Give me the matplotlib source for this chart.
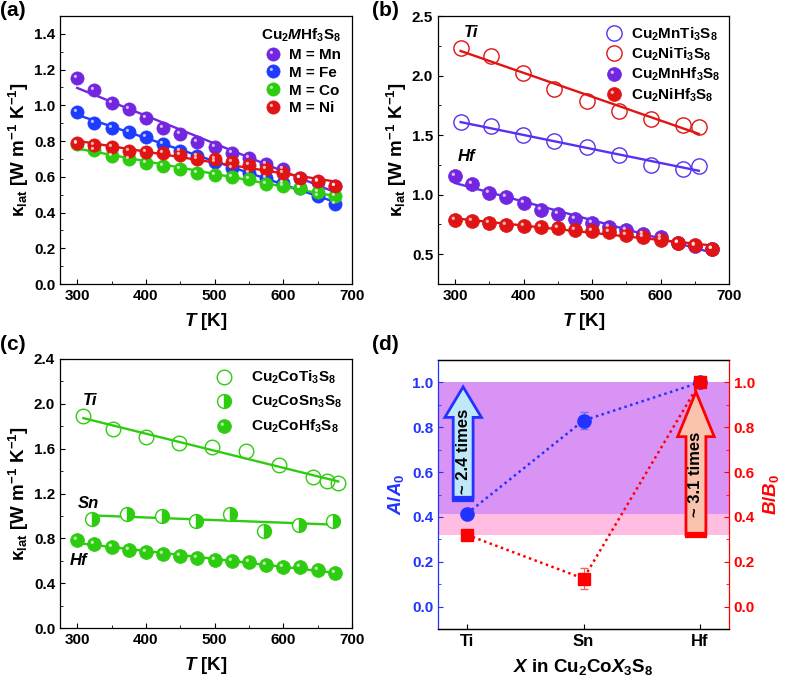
import numpy as np
import matplotlib
matplotlib.use("Agg")
import matplotlib.pyplot as plt
from matplotlib.path import Path
from matplotlib.patches import FancyArrow
from matplotlib.legend_handler import HandlerTuple
from matplotlib.ticker import MultipleLocator

plt.rcParams.update(
    {
        "font.family": ["Liberation Sans", "DejaVu Sans"],
        "font.weight": "bold",
        "axes.labelweight": "bold",
        "font.size": 11,
        "mathtext.fontset": "custom",
        "mathtext.default": "regular",
        "mathtext.it": "Liberation Sans:italic:bold",
        "mathtext.rm": "Liberation Sans:bold",
        "mathtext.bf": "Liberation Sans:bold",
        "axes.linewidth": 0.9,
        "xtick.direction": "in",
        "ytick.direction": "in",
        "xtick.major.size": 3.5,
        "ytick.major.size": 3.5,
        "xtick.minor.size": 2,
        "ytick.minor.size": 2,
    }
)

# ---- data ----
T_hf = [300, 325, 350, 375, 400, 425, 450, 475, 500, 525, 550, 575, 600, 625, 650, 675]
mn_hf = [1.153, 1.086, 1.015, 0.978, 0.927, 0.875, 0.837, 0.796, 0.766, 0.731, 0.703, 0.671, 0.641, 0.594, 0.570, 0.548]
fe_hf = [0.963, 0.903, 0.875, 0.851, 0.824, 0.785, 0.744, 0.716, 0.682, 0.650, 0.620, 0.594, 0.566, 0.535, 0.495, 0.447]
co_hf = [0.784, 0.748, 0.719, 0.698, 0.677, 0.659, 0.641, 0.623, 0.611, 0.599, 0.587, 0.561, 0.546, 0.540, 0.516, 0.492]
ni_hf = [0.790, 0.776, 0.766, 0.744, 0.740, 0.731, 0.721, 0.700, 0.697, 0.684, 0.665, 0.645, 0.622, 0.596, 0.574, 0.548]

T_ti = [308, 353, 399, 444, 493, 539, 586, 633, 656]
mn_ti = [1.606, 1.573, 1.497, 1.447, 1.397, 1.335, 1.251, 1.215, 1.237]
ni_ti = [2.229, 2.168, 2.020, 1.891, 1.790, 1.704, 1.634, 1.581, 1.564]

T_co_ti = [309, 352, 400, 448, 496, 545, 594, 643, 664, 680]
co_ti = [1.889, 1.777, 1.708, 1.649, 1.613, 1.577, 1.455, 1.345, 1.312, 1.291]
T_co_sn = [322, 372, 423, 473, 522, 572, 623, 673]
co_sn = [0.975, 1.020, 1.002, 0.954, 1.017, 0.865, 0.918, 0.957]

x_elem = ["Ti", "Sn", "Hf"]
A_ratio = [0.415, 0.830, 1.000]
A_err = [0.010, 0.040, 0.010]
B_ratio = [0.320, 0.125, 1.000]
B_err = [0.010, 0.045, 0.010]

C_MN = "#7226E0"
C_FE = "#1E3CFF"
C_CO = "#2ECC10"
C_NI = "#E01414"
C_MN2 = "#5A30F0"

KLAT = r"κ$_{lat}$ [W m$^{-1}$ K$^{-1}$]"
TLAB = r"$\mathit{T}$ [K]"
TICK_FS = 11
LEG_FS = 11
LAB_FS = 13.5

# highlight marker: small circle in upper-left of the marker box (sphere look)
_circ = Path.circle(center=(-0.32, 0.32), radius=0.24)
HL = Path.make_compound_path(Path([(-1, -1), (1, 1)], [Path.MOVETO, Path.MOVETO]), _circ)


def balls(ax, x, y, color, ms=9.5, z=3):
    h1, = ax.plot(x, y, ls="none", marker="o", ms=ms, mfc=color, mec=color, mew=0.5, zorder=z)
    h2, = ax.plot(x, y, ls="none", marker=HL, ms=ms, mfc=(1, 1, 1, 0.7), mec="none", zorder=z + 0.1)
    return (h1, h2)


def fitline(ax, x, y, color, lw=1.7):
    x = np.asarray(x, float)
    p = np.polyfit(x, y, 1)
    xx = np.array([x.min(), x.max()])
    ax.plot(xx, np.polyval(p, xx), color=color, lw=lw, zorder=2)


def style_T_axes(ax, ylim, ymaj, ymin):
    ax.set_xlim(275, 700)
    ax.set_ylim(*ylim)
    ax.xaxis.set_major_locator(MultipleLocator(100))
    ax.xaxis.set_minor_locator(MultipleLocator(50))
    ax.yaxis.set_major_locator(MultipleLocator(ymaj))
    ax.yaxis.set_minor_locator(MultipleLocator(ymin))
    ax.tick_params(which="both", top=False, right=False)
    ax.tick_params(labelsize=TICK_FS)
    ax.set_xlabel(TLAB, fontsize=LAB_FS, labelpad=6)
    ax.set_ylabel(KLAT, fontsize=LAB_FS, labelpad=2)


fig = plt.figure(figsize=(7.87, 6.83), dpi=100)
W, H = 787, 683


def add_axes(l, r, t, b):
    return fig.add_axes([l / W, 1 - b / H, (r - l) / W, (b - t) / H])


ax_a = add_axes(60, 352, 16, 284)
ax_b = add_axes(438, 729, 16, 284)
ax_c = add_axes(60, 352, 359, 628)
ax_d = add_axes(438, 729, 360, 629)

# ---- (a) ----
ax = ax_a
hs = []
for y, c in [(mn_hf, C_MN), (fe_hf, C_FE), (co_hf, C_CO), (ni_hf, C_NI)]:
    fitline(ax, T_hf, y, c)
for y, c in [(mn_hf, C_MN), (fe_hf, C_FE), (co_hf, C_CO), (ni_hf, C_NI)]:
    hs.append(balls(ax, T_hf, y, c))
style_T_axes(ax, (0, 1.5), 0.2, 0.1)
leg = ax.legend(hs, ["M = Mn", "M = Fe", "M = Co", "M = Ni"], handler_map={tuple: HandlerTuple(ndivide=1)},
                loc="upper right", frameon=False, fontsize=LEG_FS, title=r"Cu$_2$$\mathit{M}$Hf$_3$S$_8$",
                title_fontproperties={"weight": "bold", "size": LEG_FS}, numpoints=1,
                handletextpad=0.3, labelspacing=0.25, borderaxespad=0.3, handlelength=1.6)

# ---- (b) ----
ax = ax_b
fitline(ax, T_ti, mn_ti, C_MN2)
fitline(ax, T_ti, ni_ti, C_NI)
fitline(ax, T_hf, mn_hf, C_MN2)
fitline(ax, T_hf, ni_hf, C_NI)
h_mnti, = ax.plot(T_ti, mn_ti, ls="none", marker="o", ms=11, mfc="none", mec=C_MN2, mew=1.0, zorder=3)
h_niti, = ax.plot(T_ti, ni_ti, ls="none", marker="o", ms=11, mfc="none", mec=C_NI, mew=1.0, zorder=3)
h_mnhf = balls(ax, T_hf, mn_hf, C_MN, ms=10)
h_nihf = balls(ax, T_hf, ni_hf, C_NI, ms=10)
style_T_axes(ax, (0.25, 2.5), 0.5, 0.25)
ax.legend([h_mnti, h_niti, h_mnhf, h_nihf],
          [r"Cu$_2$MnTi$_3$S$_8$", r"Cu$_2$NiTi$_3$S$_8$", r"Cu$_2$MnHf$_3$S$_8$", r"Cu$_2$NiHf$_3$S$_8$"],
          handler_map={tuple: HandlerTuple(ndivide=1)}, loc="upper right", frameon=False, fontsize=LEG_FS,
          numpoints=1, handletextpad=0.3, labelspacing=0.2, borderaxespad=0.2, handlelength=1.6)
ax.text(T_ti[0] + 15, ni_ti[0] + 0.13, "Ti", fontsize=12, style="italic", ha="center", va="center")
ax.text(T_hf[0] + 16, mn_hf[0] + 0.17, "Hf", fontsize=12, style="italic", ha="center", va="center")

# ---- (c) ----
ax = ax_c
fitline(ax, T_co_ti, co_ti, C_CO)
fitline(ax, T_co_sn, co_sn, C_CO)
fitline(ax, T_hf, co_hf, C_CO)
h_ti, = ax.plot(T_co_ti, co_ti, ls="none", marker="o", ms=10.5, mfc="none", mec=C_CO, mew=1.0, zorder=3)
h_sn, = ax.plot(T_co_sn, co_sn, ls="none", marker="o", ms=10, fillstyle="right", mfc=C_CO,
                mfcalt="white", mec=C_CO, mew=1.0, zorder=3)
h_hf = balls(ax, T_hf, co_hf, C_CO, ms=10)
style_T_axes(ax, (0, 2.4), 0.4, 0.2)
ax.legend([h_ti, h_sn, h_hf], [r"Cu$_2$CoTi$_3$S$_8$", r"Cu$_2$CoSn$_3$S$_8$", r"Cu$_2$CoHf$_3$S$_8$"],
          handler_map={tuple: HandlerTuple(ndivide=1)}, loc="upper right", frameon=False, fontsize=LEG_FS,
          numpoints=1, handletextpad=1.0, labelspacing=0.5, borderaxespad=0.25, handlelength=1.6)
ax.text(T_co_ti[0] + 10, co_ti[0] + 0.14, "Ti", fontsize=12, style="italic", ha="center", va="center")
ax.text(T_co_sn[0] - 5, co_sn[0] + 0.14, "Sn", fontsize=12, style="italic", ha="center", va="center")
ax.text(T_hf[0] + 2, co_hf[0] - 0.18, "Hf", fontsize=12, style="italic", ha="center", va="center")

# ---- (d) ----
ax = ax_d
C_BL = "#2233FF"
C_RD = "#FF0000"
xi = np.arange(len(x_elem))
ax2 = ax.twinx()
ax.set_zorder(ax2.get_zorder() + 1)
ax.patch.set_visible(False)
for a in (ax, ax2):
    a.set_ylim(-0.1, 1.1)
    a.set_xlim(-0.25, 2.25)
    a.set_yticks([0, 0.2, 0.4, 0.6, 0.8, 1.0])
    a.yaxis.set_minor_locator(MultipleLocator(0.1))

ax2.axhspan(B_ratio[0], B_ratio[2], color="#FFBDE2", lw=0, zorder=0)
ax2.axhspan(A_ratio[0], A_ratio[2], color="#D993F4", lw=0, zorder=0.5)

ax.errorbar(xi, A_ratio, yerr=A_err, color=C_BL, ls=(0, (1, 1.4)), lw=1.8, marker="o", ms=9.5,
            ecolor="#6677EE", elinewidth=0.8, capsize=3, zorder=4)
ax.errorbar(xi, B_ratio, yerr=B_err, color=C_RD, ls=(0, (1, 1.4)), lw=1.8, marker="s", ms=9,
            ecolor="#EE6666", elinewidth=0.8, capsize=3, zorder=5)

# arrows showing the increase from Ti to Hf
w, hw = 0.171, 0.314
xa = xi[0] - 0.034
a0, a1 = A_ratio[0] + 0.066, A_ratio[2] - 0.02
ax.add_patch(FancyArrow(xa, a0, 0, a1 - a0, width=w, head_width=hw, head_length=0.136,
                        length_includes_head=True, fc="#BFE8F8", ec=C_BL, lw=2, zorder=3))
ax.plot([xa - w / 2 - 0.01, xa + w / 2 + 0.01], [a0, a0], color=C_BL, lw=4.5, solid_capstyle="butt", zorder=3.1)
ax.text(xa, (a0 + a1) / 2 - 0.04, "~ 2.4 times", rotation=90, ha="center", va="center", fontsize=12, zorder=3.2)

xb = xi[2] - 0.034
b0, b1 = B_ratio[0], B_ratio[2] - 0.042
ax.add_patch(FancyArrow(xb, b0, 0, b1 - b0, width=w, head_width=hw, head_length=0.2,
                        length_includes_head=True, fc="#F9C3AE", ec=C_RD, lw=2, zorder=3))
ax.plot([xb - w / 2 - 0.01, xb + w / 2 + 0.01], [b0, b0], color=C_RD, lw=4.5, solid_capstyle="butt", zorder=3.1)
ax.text(xb, (b0 + b1) / 2 - 0.05, "~ 3.1 times", rotation=90, ha="center", va="center", fontsize=12, zorder=3.2)

ax.set_xticks(xi)
ax.set_xticklabels(x_elem, fontsize=12)
ax.tick_params(axis="x", which="both", top=False)
ax.tick_params(axis="y", which="both", colors=C_BL, labelsize=TICK_FS, right=False)
ax2.tick_params(axis="y", which="both", colors=C_RD, labelsize=TICK_FS, left=False)
ax.spines["left"].set_color(C_BL)
ax2.spines["left"].set_visible(False)
ax.spines["right"].set_visible(False)
ax2.spines["right"].set_color(C_RD)
ax.set_ylabel(r"$\mathit{A/A_0}$", color=C_BL, fontsize=LAB_FS, labelpad=4)
ax2.set_ylabel(r"$\mathit{B/B_0}$", color=C_RD, fontsize=LAB_FS, labelpad=4)
ax.set_xlabel(r"$\mathit{X}$ in Cu$_2$Co$\mathit{X}_3$S$_8$", fontsize=LAB_FS, labelpad=6)

# panel labels
for lab, x, y in [("(a)", 0, 1), ("(b)", 372, 1), ("(c)", 0, 335), ("(d)", 372, 335)]:
    fig.text(x / W, 1 - y / H, lab, fontsize=15, weight="bold", ha="left", va="top")

fig.savefig("out.png", dpi=100)
